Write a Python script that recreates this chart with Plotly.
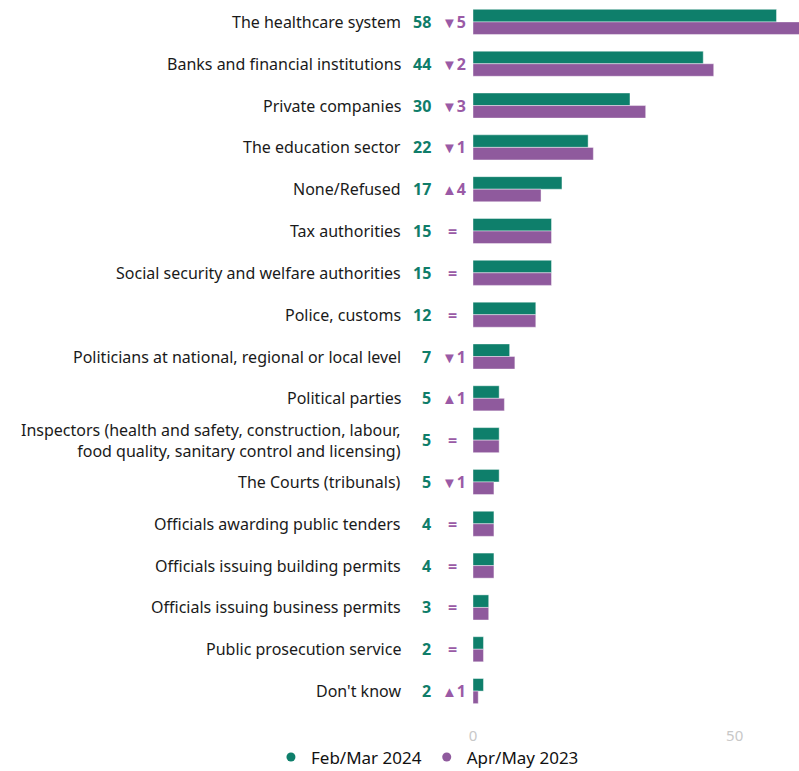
import plotly.graph_objects as go

categories = [
    "The healthcare system",
    "Banks and financial institutions",
    "Private companies",
    "The education sector",
    "None/Refused",
    "Tax authorities",
    "Social security and welfare authorities",
    "Police, customs",
    "Politicians at national, regional or local level",
    "Political parties",
    "Inspectors (health and safety, construction, labour,<br>food quality, sanitary control and licensing)",
    "The Courts (tribunals)",
    "Officials awarding public tenders",
    "Officials issuing building permits",
    "Officials issuing business permits",
    "Public prosecution service",
    "Don't know",
]
feb_mar_2024 = [58, 44, 30, 22, 17, 15, 15, 12, 7, 5, 5, 5, 4, 4, 3, 2, 2]
apr_may_2023 = [63, 46, 33, 23, 13, 15, 15, 12, 8, 6, 5, 4, 4, 4, 3, 2, 1]
change_dir = ["down", "down", "down", "down", "up", "eq", "eq", "eq", "down", "up",
              "eq", "down", "eq", "eq", "eq", "eq", "up"]
change_val = [5, 2, 3, 1, 4, 0, 0, 0, 1, 1, 0, 1, 0, 0, 0, 0, 1]
tick_vals = [0, 50]

GREEN = "#0e7f6b"
PURPLE = "#8f5a9d"
GREEN_TXT = "#0f7d69"
PURPLE_TXT = "#9a5aa6"
FONT = "Noto Sans"

keys = [f"c{i}" for i in range(len(categories))]

fig = go.Figure()
fig.add_trace(go.Bar(
    y=keys, x=feb_mar_2024, orientation="h", name="Feb/Mar 2024",
    marker=dict(color=GREEN, line=dict(color="rgba(255,255,255,0.6)", width=0.7)),
    showlegend=False, hoverinfo="skip",
))
fig.add_trace(go.Bar(
    y=keys, x=apr_may_2023, orientation="h", name="Apr/May 2023",
    marker=dict(color=PURPLE, line=dict(color="rgba(255,255,255,0.6)", width=0.7)),
    showlegend=False, hoverinfo="skip",
))
# legend entries drawn as round dots
for name, col in [("Feb/Mar 2024", GREEN), ("Apr/May 2023", PURPLE)]:
    fig.add_trace(go.Scatter(
        x=[None], y=[None], mode="markers", name=name,
        marker=dict(color=col, size=9, symbol="circle"),
    ))

annotations = []
for k, cat, v, d, c in zip(keys, categories, feb_mar_2024, change_dir, change_val):
    annotations.append(dict(
        x=0, y=k, xref="x", yref="y", text=cat, showarrow=False,
        xanchor="right", yanchor="middle", align="right", xshift=-70,
        font=dict(family=FONT, size=16, color="#1a1a1a"),
    ))
    annotations.append(dict(
        x=0, y=k, xref="x", yref="y", text=f"<b>{v}</b>", showarrow=False,
        xanchor="right", yanchor="middle", xshift=-40,
        font=dict(family=FONT, size=16, color=GREEN_TXT),
    ))
    if d == "eq":
        txt = "<b>=</b>"
        shift = -21
    else:
        tri = "▼" if d == "down" else "▲"
        txt = f"<span style='font-size:15px'>{tri}</span><b>{c}</b>"
        shift = -19
    annotations.append(dict(
        x=0, y=k, xref="x", yref="y", text=txt, showarrow=False,
        xanchor="center", yanchor="middle", xshift=shift,
        font=dict(family=FONT, size=16, color=PURPLE_TXT),
    ))

fig.update_layout(
    width=799, height=771,
    margin=dict(l=473, r=0, t=1, b=59, autoexpand=False),
    barmode="group", bargap=0.4, bargroupgap=0,
    plot_bgcolor="white", paper_bgcolor="white",
    font=dict(family=FONT),
    xaxis=dict(range=[0, 62.3], tickvals=tick_vals, showgrid=False, zeroline=False,
               showline=False, ticks="", tickfont=dict(family=FONT, size=15, color="#c8c8c8"),
               ticklabelstandoff=13, fixedrange=True),
    yaxis=dict(autorange="reversed", showticklabels=False, showgrid=False,
               zeroline=False, showline=False, ticks="", fixedrange=True),
    legend=dict(orientation="h", x=0.535, xanchor="center", xref="container",
                y=-0.064, yanchor="middle", yref="paper",
                font=dict(family=FONT, size=17, color="#111"),
                itemwidth=30, tracegroupgap=0, bgcolor="rgba(0,0,0,0)"),
    annotations=annotations,
)

fig.write_html("out.html")
